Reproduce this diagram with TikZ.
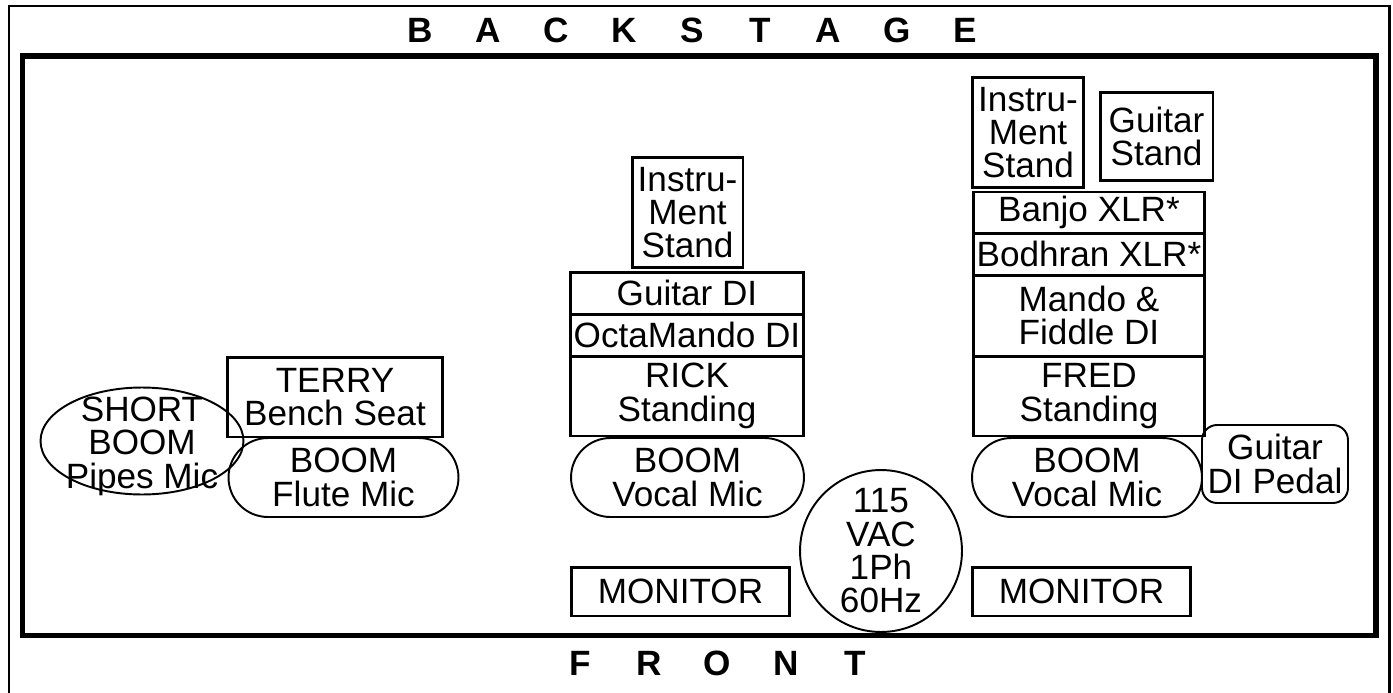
\documentclass[tikz,border=0pt]{standalone}
\usepackage{fontspec}
\setmainfont{Liberation Sans}
\usepackage{tikz}
\usetikzlibrary{shapes.geometric, shapes.misc, positioning}
\newcommand{\plotfont}{\fontsize{20}{19}\selectfont}

\begin{document}
\begin{tikzpicture}[
  x=0.02cm, y=-0.02cm,
  gearbox/.style={draw, line width=1.7pt, inner sep=0pt, align=center, font=\plotfont},
  micbox/.style={draw, rounded rectangle, line width=1.1pt, inner sep=0pt, align=center, font=\plotfont, minimum height=1.58cm},
  pedalbox/.style={draw, rounded corners=0.3cm, line width=1.1pt, inner sep=0pt, align=center, font=\plotfont},
  stagelabel/.style={font=\fontsize{20}{20}\selectfont\bfseries}
]
\useasboundingbox (0,0) rectangle (1393,693);

% Frames
\draw[line width=1.7pt] (9,693) -- (9,6) -- (1389,6) -- (1389,693);
\draw[line width=3.4pt] (22.5,56) rectangle (1375.5,635.5);

% Backstage and front labels
\foreach \ch [count=\i from 0] in {B,A,C,K,S,T,A,G,E}
  \node[stagelabel] (back\i) at (420+68.1*\i,30) {\ch};
\foreach \ch [count=\i from 0] in {F,R,O,N,T}
  \node[stagelabel] (front\i) at (580+68.75*\i,663) {\ch};

% Terry
\node[draw, ellipse, line width=1.1pt, minimum width=4.06cm, minimum height=2.14cm] (pipes) at (142,441) {};
\node[font=\plotfont, align=center, inner sep=0pt] (pipestxt) at (142,446) {SHORT\\BOOM\\Pipes Mic};
\node[gearbox, minimum width=4.32cm, minimum height=1.6cm] (terry) at (335,397) {TERRY\\Bench Seat};
\node[micbox, minimum width=4.6cm] (flute) at (343.5,477.5) {BOOM\\Flute Mic};

% Rick
\node[gearbox, minimum width=2.22cm, minimum height=2.22cm] (rstand) at (687.5,212.5) {Instru-\\Ment\\Stand};
\node[gearbox, minimum width=4.66cm, minimum height=0.84cm] (gdi) at (687,293) {Guitar DI};
\node[gearbox, minimum width=4.66cm, minimum height=0.84cm] (octa) at (687,335) {OctaMando DI};
\node[gearbox, minimum width=4.66cm, minimum height=1.6cm] (rick) at (687,396) {RICK\\Standing};
\node[micbox, minimum width=4.66cm] (rvocal) at (687.5,477.5) {BOOM\\Vocal Mic};
\node[gearbox, minimum width=4.38cm, minimum height=0.98cm] (rmon) at (680.5,591.5) {MONITOR};

% Power
\node[draw, circle, line width=1.1pt, minimum size=3.24cm, inner sep=0pt, align=center, font=\plotfont] (power) at (881,551) {115\\VAC\\1Ph\\60Hz};

% Fred
\node[gearbox, minimum width=2.22cm, minimum height=2.22cm] (fstand) at (1028,132.5) {Instru-\\Ment\\Stand};
\node[gearbox, minimum width=2.26cm, minimum height=1.78cm] (gstand) at (1156.5,136.5) {Guitar\\Stand};
\node[gearbox, minimum width=4.64cm, minimum height=0.82cm] (banjo) at (1089,212.5) {Banjo XLR*};
\node[gearbox, minimum width=4.64cm, minimum height=0.84cm] (bodhran) at (1089,254) {Bodhran XLR*};
\node[gearbox, minimum width=4.64cm, minimum height=1.62cm] (mando) at (1089,315.5) {Mando \&\\Fiddle DI};
\node[gearbox, minimum width=4.64cm, minimum height=1.6cm] (fred) at (1089,396) {FRED\\Standing};
\node[micbox, minimum width=4.6cm] (fvocal) at (1087,477.5) {BOOM\\Vocal Mic};
\node[pedalbox, minimum width=2.92cm, minimum height=1.56cm] (pedal) at (1275,464) {Guitar\\DI Pedal};
\node[gearbox, minimum width=4.38cm, minimum height=0.98cm] (fmon) at (1081.5,591.5) {MONITOR};

\end{tikzpicture}
\end{document}
